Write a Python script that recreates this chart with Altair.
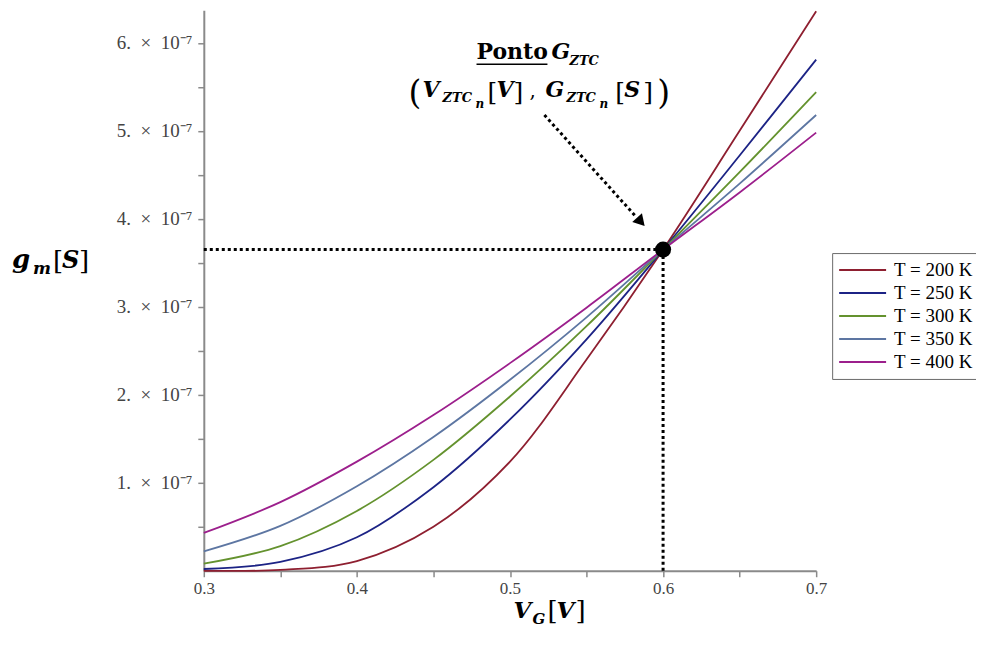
import altair as alt
import pandas as pd

# ---- data ----
vg = [0.30, 0.35, 0.40, 0.45, 0.50, 0.55, 0.60, 0.65, 0.70]
temps = ["T = 200 K", "T = 250 K", "T = 300 K", "T = 350 K", "T = 400 K"]
# gm values in units of 1e-7 S
gm_200 = [0.00, 0.01, 0.11, 0.50, 1.24, 2.40, 3.65, 5.00, 6.36]
gm_250 = [0.02, 0.10, 0.38, 0.95, 1.72, 2.63, 3.65, 4.72, 5.81]
gm_300 = [0.08, 0.28, 0.68, 1.26, 1.98, 2.78, 3.65, 4.53, 5.44]
gm_350 = [0.22, 0.51, 0.96, 1.52, 2.17, 2.88, 3.65, 4.40, 5.18]
gm_400 = [0.43, 0.78, 1.24, 1.77, 2.36, 2.99, 3.65, 4.30, 4.98]
colors = ["#8e1f30", "#1c2385", "#64922e", "#5d76a2", "#9c1f8c"]

x_ticks = [0.30, 0.35, 0.40, 0.45, 0.50, 0.55, 0.60, 0.65, 0.70]
y_ticks = [k * 0.5e-7 for k in range(1, 13)]

ztc_v = 0.6
ztc_g = 3.65e-7
# dotted arrow (data coordinates)
arrow_start = (0.5225, 5.18e-7)
arrow_end = (0.5825, 4.02e-7)
arrow_head = (0.5855, 3.965e-7)

series = [gm_200, gm_250, gm_300, gm_350, gm_400]
rows = []
for t, s in zip(temps, series):
    for v, g in zip(vg, s):
        rows.append({"vg": v, "gm": g * 1e-7, "T": t})
df = pd.DataFrame(rows)

W, H = 613, 561
OX, OY = 204, 10  # page position of plot origin

xscale = alt.Scale(domain=[0.3, 0.7], nice=False, zero=False)
yscale = alt.Scale(domain=[0, 6.37e-7], nice=False, zero=False)

axis_common = dict(
    grid=False, title=None, domainColor="#8a8a8a", domainWidth=2,
    tickColor="#8a8a8a", tickWidth=1.5, tickSize=6,
    labelFont="Liberation Serif", labelColor="#444444",
    labelOverlap=False, labelFlush=False,
)

NB = "\u00a0"
y_label_expr = (
    "round(datum.value*2e7) % 2 == 0 ? format(round(datum.value*1e7), 'd') + '."
    + NB + NB + "×" + NB + NB + "10⁻⁷' : ''"
)

lines = alt.Chart(df).mark_line(strokeWidth=1.8, interpolate="catmull-rom").encode(
    x=alt.X("vg:Q", scale=xscale, axis=alt.Axis(
        values=x_ticks, labelFontSize=17, labelPadding=4,
        labelExpr="round(datum.value*100) % 10 == 0 ? format(datum.value, '.1f') : ''",
        **axis_common)),
    y=alt.Y("gm:Q", scale=yscale, axis=alt.Axis(
        values=y_ticks, labelFontSize=19, labelPadding=6,
        labelExpr=y_label_expr,
        **axis_common)),
    color=alt.Color("T:N", scale=alt.Scale(domain=temps, range=colors), legend=alt.Legend(
        orient="none", legendX=629, legendY=243, title=None,
        symbolType="stroke", symbolSize=2209, symbolStrokeWidth=2, clipHeight=22,
        labelFont="Liberation Serif", labelFontSize=19, labelColor="black",
        labelOffset=7, rowPadding=1, padding=6,
        strokeColor="#6a6a6a", fillColor="white")),
    detail="T:N",
)

ztc = pd.DataFrame({"v": [ztc_v], "g": [ztc_g], "x0": [0.3], "y0": [0.0]})
hline = alt.Chart(ztc).mark_rule(strokeDash=[3, 3], strokeWidth=3, color="black").encode(
    x="x0:Q", x2="v:Q", y="g:Q")
vline = alt.Chart(ztc).mark_rule(strokeDash=[3, 3], strokeWidth=3, color="black").encode(
    x="v:Q", y="y0:Q", y2="g:Q")
dot = alt.Chart(ztc).mark_circle(size=260, color="black", opacity=1).encode(x="v:Q", y="g:Q")

arr = pd.DataFrame({"x": [arrow_start[0]], "y": [arrow_start[1]],
                    "x2": [arrow_end[0]], "y2": [arrow_end[1]],
                    "hx": [arrow_head[0]], "hy": [arrow_head[1]]})
shaft = alt.Chart(arr).mark_rule(strokeDash=[3, 3], strokeWidth=3, color="black").encode(
    x="x:Q", y="y:Q", x2="x2:Q", y2="y2:Q")
head = alt.Chart(arr).mark_point(shape="triangle-right", filled=True, angle=48, size=170,
                                 color="black", opacity=1).encode(x="hx:Q", y="hy:Q")

one = pd.DataFrame({"a": [0]})


def txt(s, px, py, size, italic=True, bold=True, font="DejaVu Serif"):
    return alt.Chart(one).mark_text(
        text=s, font=font, fontSize=size,
        fontStyle="italic" if italic else "normal",
        fontWeight="bold" if bold else "normal",
        align="left", baseline="alphabetic", color="black",
    ).encode(x=alt.value(px - OX), y=alt.value(py - OY))


texts = [
    # line 1
    txt("Ponto", 477, 59, 22, italic=False),
    txt("G", 552, 59, 22),
    txt("ZTC", 570, 65, 13),
    # line 2
    txt("(", 409, 104, 33, italic=False, bold=False),
    txt("V", 423, 97, 22),
    txt("ZTC", 443, 102, 13),
    txt("n", 476, 108, 12),
    txt("[", 488, 100, 25, italic=False, bold=False),
    txt("V", 497, 97, 22),
    txt("]", 514, 100, 25, italic=False, bold=False),
    txt(",", 530, 97, 20, italic=False, bold=False),
    txt("G", 546, 97, 22),
    txt("ZTC", 567, 102, 13),
    txt("n", 600, 108, 12),
    txt("[", 616, 100, 25, italic=False, bold=False),
    txt("S", 625, 97, 22),
    txt("]", 644, 100, 25, italic=False, bold=False),
    txt(")", 658, 104, 33, italic=False, bold=False),
    # y title
    txt("g", 12, 268, 26),
    txt("m", 33, 274, 17),
    txt("[", 53, 270, 26, italic=False, bold=False),
    txt("S", 62, 268, 24),
    txt("]", 79, 270, 26, italic=False, bold=False),
    # x title
    txt("V", 514, 618, 23),
    txt("G", 533, 624, 15),
    txt("[", 548, 620, 26, italic=False, bold=False),
    txt("V", 557, 618, 23),
    txt("]", 576, 620, 26, italic=False, bold=False),
]

underline = alt.Chart(one).mark_rule(strokeWidth=1.6, color="black").encode(
    x=alt.value(477 - OX), x2=alt.value(548 - OX), y=alt.value(64 - OY))

chart = alt.layer(lines, hline, vline, shaft, head, dot, underline, *texts).properties(
    width=W, height=H,
    autosize=alt.AutoSizeParams(type="none"),
    padding={"left": OX - 8, "top": OY - 8, "right": 160, "bottom": 60},
).configure_view(stroke=None)

chart.save("out.html", embed_options={"renderer": "svg", "actions": False})
